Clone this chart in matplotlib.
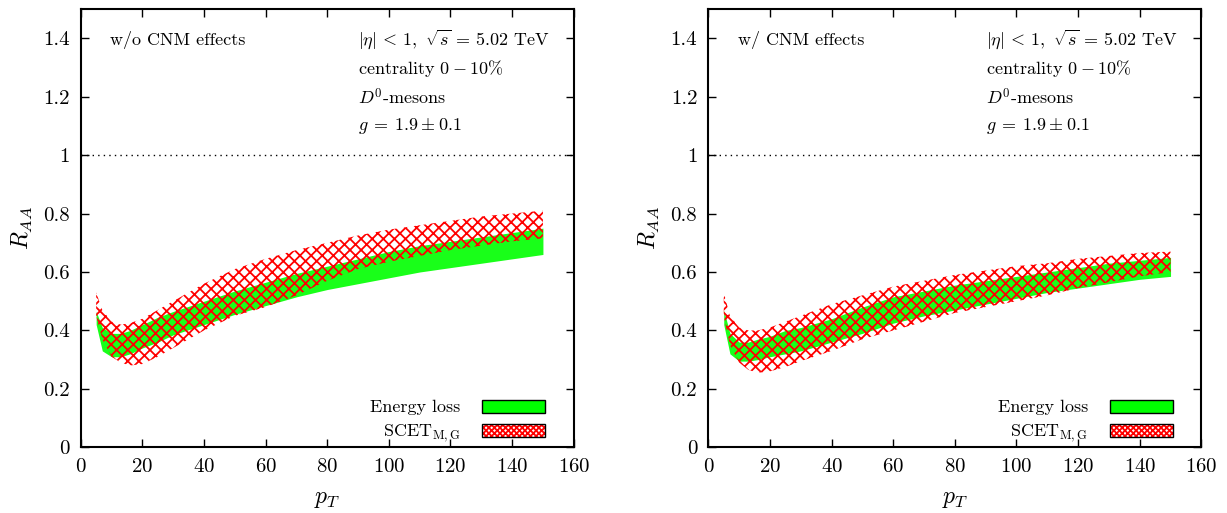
import numpy as np
import matplotlib
matplotlib.use("Agg")
import matplotlib.pyplot as plt
from matplotlib.patches import Patch
from matplotlib.legend_handler import HandlerTuple

plt.rcParams['font.family'] = 'serif'
plt.rcParams['font.serif'] = ['cmr10', 'DejaVu Serif']
plt.rcParams['mathtext.fontset'] = 'cm'
plt.rcParams['axes.unicode_minus'] = False
plt.rcParams['axes.formatter.use_mathtext'] = True
plt.rcParams['hatch.linewidth'] = 1.3

pt = [5, 7, 10, 13, 16, 20, 25, 30, 40, 50, 60, 70, 80, 90, 100, 110, 120, 130, 140, 150]

# left panel: w/o CNM effects
eloss_hi_L = [0.465, 0.41, 0.39, 0.39, 0.40, 0.42, 0.445, 0.465, 0.50, 0.535, 0.565, 0.595, 0.62, 0.645, 0.67, 0.69, 0.705, 0.72, 0.735, 0.75]
eloss_lo_L = [0.42, 0.33, 0.31, 0.31, 0.32, 0.34, 0.36, 0.385, 0.42, 0.455, 0.485, 0.515, 0.54, 0.56, 0.58, 0.60, 0.615, 0.63, 0.645, 0.66]
scet_hi_L = [0.53, 0.47, 0.43, 0.42, 0.425, 0.44, 0.47, 0.50, 0.56, 0.61, 0.645, 0.675, 0.70, 0.725, 0.745, 0.76, 0.775, 0.79, 0.80, 0.81]
scet_lo_L = [0.45, 0.37, 0.31, 0.29, 0.28, 0.285, 0.31, 0.34, 0.40, 0.45, 0.48, 0.52, 0.57, 0.61, 0.635, 0.655, 0.675, 0.69, 0.705, 0.715]

# right panel: w/ CNM effects
eloss_hi_R = [0.47, 0.39, 0.36, 0.36, 0.37, 0.38, 0.40, 0.41, 0.44, 0.48, 0.515, 0.535, 0.555, 0.57, 0.585, 0.60, 0.615, 0.63, 0.64, 0.65]
eloss_lo_R = [0.42, 0.32, 0.295, 0.295, 0.30, 0.31, 0.32, 0.33, 0.36, 0.39, 0.425, 0.45, 0.47, 0.49, 0.51, 0.53, 0.545, 0.56, 0.575, 0.585]
scet_hi_R = [0.53, 0.45, 0.41, 0.40, 0.40, 0.41, 0.43, 0.45, 0.49, 0.52, 0.55, 0.57, 0.59, 0.605, 0.62, 0.63, 0.645, 0.655, 0.665, 0.67]
scet_lo_R = [0.45, 0.35, 0.29, 0.265, 0.255, 0.26, 0.275, 0.295, 0.33, 0.37, 0.40, 0.43, 0.46, 0.48, 0.50, 0.52, 0.545, 0.565, 0.585, 0.60]

panel_titles = ['w/o CNM effects', 'w/ CNM effects']
info_lines = [r'$|\eta|\,<\,1,\ \sqrt{s}\,=\,5.02$ TeV',
              r'centrality $0\:-\:10\%$',
              r'$D^0$-mesons',
              r'$g\:=\:1.9\:\pm\:0.1$']

green = '#00ff00'

fig = plt.figure(figsize=(12.27, 5.13), dpi=100)
ax1 = fig.add_axes([0.0658, 0.128, 0.4018, 0.8545])
ax2 = fig.add_axes([0.5773, 0.128, 0.4018, 0.8545])

panels = [(ax1, eloss_lo_L, eloss_hi_L, scet_lo_L, scet_hi_L),
          (ax2, eloss_lo_R, eloss_hi_R, scet_lo_R, scet_hi_R)]

for i, (ax, glo, ghi, rlo, rhi) in enumerate(panels):
    ax.fill_between(pt, glo, ghi, color=green, alpha=0.9, lw=0)
    ax.fill_between(pt, rlo, rhi, facecolor='none', edgecolor='red', hatch='xxx', lw=0)
    ax.axhline(1.0, color='black', ls=(0, (1, 3)), lw=1)

    ax.set_xlim(0, 160)
    ax.set_ylim(0, 1.5)
    ax.set_xticks(np.arange(0, 161, 20))
    ax.set_yticks([0, 0.2, 0.4, 0.6, 0.8, 1, 1.2, 1.4])
    ax.set_yticklabels(['0', '0.2', '0.4', '0.6', '0.8', '1', '1.2', '1.4'])
    ax.tick_params(direction='in', top=True, right=True, length=6, width=1,
                   labelsize=15, pad=8)
    for s in ax.spines.values():
        s.set_linewidth(1.5)
    ax.set_xlabel(r'$p_T$', fontsize=17, labelpad=8)
    ax.set_ylabel(r'$R_{AA}$', fontsize=17, labelpad=6)

    ax.text(0.06, 0.93, panel_titles[i], transform=ax.transAxes, fontsize=13, va='center')
    for k, line in enumerate(info_lines):
        ax.text(0.5625, 0.93 - k * 0.066, line, transform=ax.transAxes, fontsize=13, va='center')

    h_green = Patch(facecolor=green, edgecolor='black', lw=1)
    h_red = (Patch(facecolor='white', edgecolor='red', hatch='xxxxxx', lw=0),
             Patch(facecolor='none', edgecolor='black', lw=1))
    ax.legend([h_green, h_red], ['Energy loss', r'SCET$_{\rm M,G}$'],
              handler_map={tuple: HandlerTuple(ndivide=1, pad=0)},
              loc='lower right', bbox_to_anchor=(0.975, -0.03), frameon=False,
              markerfirst=False, fontsize=13, handlelength=3.5, handleheight=0.75,
              labelspacing=0.4, handletextpad=1.2, borderpad=0.4)

fig.savefig('out.png', dpi=100)
